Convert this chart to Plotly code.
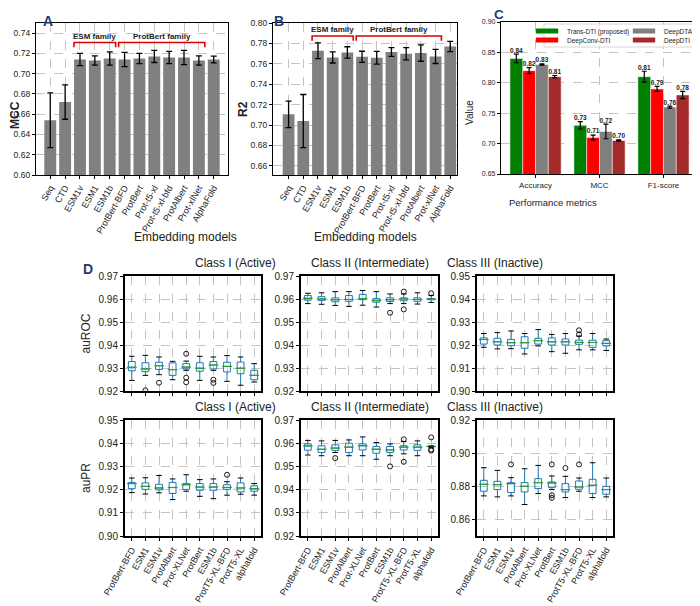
import plotly.graph_objects as go

# ---- panel A / B : embedding models ----
models = ["Seq", "CTD", "ESM1v", "ESM1", "ESM1b", "ProtBert-BFD", "ProtBert",
          "Prot-t5-xl", "Prot-t5-xl-bfd", "ProtAlbert", "Prot-xlNet", "AlphaFold"]
mcc_mean = [0.654, 0.672, 0.714, 0.713, 0.715, 0.714, 0.715, 0.717, 0.716, 0.716, 0.713, 0.714]
mcc_err = [0.027, 0.017, 0.006, 0.0045, 0.0065, 0.007, 0.005, 0.006, 0.006, 0.007, 0.0045, 0.0033]
r2_mean = [0.7105, 0.7039, 0.7728, 0.7662, 0.7711, 0.7669, 0.7659, 0.7715, 0.7698, 0.7705, 0.7672, 0.777]
r2_err = [0.013, 0.026, 0.0077, 0.0054, 0.0056, 0.0054, 0.0062, 0.0043, 0.006, 0.008, 0.0069, 0.005]

# ---- panel C : comparison with other methods ----
metrics = ["Accuracy", "MCC", "F1-score"]
methods = ["Trans-DTI (proposed)", "DeepConv-DTI", "DeepDTA", "DeepDTI"]
method_colors = ["#008000", "#ff0000", "#808080", "#a52a2a"]
trans_vals = [0.84, 0.73, 0.81]
deepconv_vals = [0.82, 0.71, 0.79]
deepdta_vals = [0.83, 0.72, 0.76]
deepdti_vals = [0.81, 0.705, 0.78]
trans_err = [0.007, 0.006, 0.009]
deepconv_err = [0.005, 0.004, 0.004]
deepdta_err = [0.001, 0.012, 0.0015]
deepdti_err = [0.002, 0.001, 0.006]
trans_lbl = ["0.84", "0.73", "0.81"]
deepconv_lbl = ["0.82", "0.71", "0.79"]
deepdta_lbl = ["0.83", "0.72", "0.76"]
deepdti_lbl = ["0.81", "0.70", "0.78"]

# ---- panel D : box plots, (lower whisker, q1, median, q3, upper whisker) ----
box_models = ["ProtBert-BFD", "ESM1", "ESM1v", "ProtAlbert", "Prot-XLNet", "ProtBert",
              "ESM1b", "ProtT5-XL-BFD", "ProtT5-XL", "alphafold"]

roc_active = [
    (0.9246, 0.9288, 0.9303, 0.9328, 0.9351),
    (0.9268, 0.9284, 0.9296, 0.9323, 0.9355),
    (0.9271, 0.9294, 0.9310, 0.9325, 0.9348),
    (0.9249, 0.9268, 0.9293, 0.9322, 0.9329),
    (0.9290, 0.9296, 0.9304, 0.9319, 0.9330),
    (0.9246, 0.9286, 0.9299, 0.9323, 0.9351),
    (0.9290, 0.9296, 0.9313, 0.9328, 0.9348),
    (0.9242, 0.9283, 0.9307, 0.9325, 0.9354),
    (0.9225, 0.9275, 0.9299, 0.9326, 0.9348),
    (0.9239, 0.9249, 0.9268, 0.9290, 0.9319),
]
roc_active_out = [("ESM1", 0.9203), ("ESM1v", 0.9236), ("Prot-XLNet", 0.9362),
                  ("Prot-XLNet", 0.9258), ("Prot-XLNet", 0.9238),
                  ("ESM1b", 0.9249), ("ESM1b", 0.9235)]

roc_inter = [
    (0.9580, 0.9595, 0.9603, 0.9615, 0.9625),
    (0.9577, 0.9593, 0.9600, 0.9610, 0.9627),
    (0.9572, 0.9588, 0.9597, 0.9605, 0.9632),
    (0.9568, 0.9590, 0.9598, 0.9615, 0.9632),
    (0.9573, 0.9597, 0.9601, 0.9620, 0.9637),
    (0.9565, 0.9586, 0.9593, 0.9602, 0.9632),
    (0.9580, 0.9589, 0.9597, 0.9605, 0.9622),
    (0.9580, 0.9592, 0.9600, 0.9605, 0.9622),
    (0.9578, 0.9590, 0.9598, 0.9605, 0.9627),
    (0.9585, 0.9597, 0.9600, 0.9602, 0.9615),
]
roc_inter_out = [("ESM1b", 0.9540), ("ProtT5-XL-BFD", 0.9632), ("ProtT5-XL-BFD", 0.9555),
                 ("alphafold", 0.9625)]

roc_inact = [
    (0.9190, 0.9204, 0.9224, 0.9231, 0.9250),
    (0.9183, 0.9200, 0.9214, 0.9229, 0.9254),
    (0.9184, 0.9197, 0.9210, 0.9224, 0.9261),
    (0.9161, 0.9186, 0.9210, 0.9236, 0.9250),
    (0.9196, 0.9204, 0.9219, 0.9229, 0.9267),
    (0.9171, 0.9200, 0.9214, 0.9231, 0.9246),
    (0.9164, 0.9200, 0.9214, 0.9226, 0.9250),
    (0.9179, 0.9203, 0.9211, 0.9221, 0.9239),
    (0.9179, 0.9190, 0.9211, 0.9221, 0.9250),
    (0.9176, 0.9196, 0.9207, 0.9219, 0.9226),
]
roc_inact_out = [("ProtT5-XL-BFD", 0.9264), ("ProtT5-XL-BFD", 0.9246)]

pr_active = [
    (0.9187, 0.9204, 0.9226, 0.9231, 0.9250),
    (0.9181, 0.9201, 0.9214, 0.9229, 0.9251),
    (0.9186, 0.9199, 0.9207, 0.9223, 0.9261),
    (0.9157, 0.9183, 0.9209, 0.9231, 0.9246),
    (0.9193, 0.9201, 0.9221, 0.9226, 0.9264),
    (0.9171, 0.9197, 0.9211, 0.9226, 0.9243),
    (0.9161, 0.9197, 0.9211, 0.9226, 0.9246),
    (0.9176, 0.9201, 0.9209, 0.9221, 0.9234),
    (0.9180, 0.9190, 0.9207, 0.9229, 0.9250),
    (0.9176, 0.9193, 0.9204, 0.9216, 0.9226),
]
pr_active_out = [("ProtT5-XL-BFD", 0.9264)]

pr_inter = [
    (0.9549, 0.9570, 0.9588, 0.9597, 0.9612),
    (0.9546, 0.9560, 0.9574, 0.9589, 0.9610),
    (0.9560, 0.9569, 0.9579, 0.9593, 0.9612),
    (0.9546, 0.9560, 0.9583, 0.9600, 0.9614),
    (0.9546, 0.9571, 0.9589, 0.9597, 0.9627),
    (0.9531, 0.9557, 0.9574, 0.9586, 0.9603),
    (0.9546, 0.9560, 0.9571, 0.9586, 0.9597),
    (0.9554, 0.9571, 0.9583, 0.9589, 0.9607),
    (0.9546, 0.9569, 0.9583, 0.9593, 0.9610),
    (0.9583, 0.9585, 0.9586, 0.9587, 0.9588),
]
pr_inter_out = [("ESM1v", 0.9536), ("ESM1b", 0.9500), ("ProtT5-XL-BFD", 0.9617),
                ("ProtT5-XL-BFD", 0.9520), ("alphafold", 0.9625), ("alphafold", 0.9573),
                ("alphafold", 0.9568)]

pr_inact = [
    (0.8742, 0.8770, 0.8812, 0.8836, 0.8912),
    (0.8736, 0.8780, 0.8810, 0.8830, 0.8896),
    (0.8742, 0.8762, 0.8816, 0.8822, 0.8852),
    (0.8690, 0.8766, 0.8800, 0.8822, 0.8906),
    (0.8756, 0.8786, 0.8822, 0.8846, 0.8926),
    (0.8780, 0.8792, 0.8820, 0.8826, 0.8862),
    (0.8732, 0.8766, 0.8780, 0.8816, 0.8860),
    (0.8770, 0.8782, 0.8796, 0.8832, 0.8850),
    (0.8732, 0.8756, 0.8806, 0.8842, 0.8942),
    (0.8736, 0.8752, 0.8780, 0.8800, 0.8850),
]
pr_inact_out = [("ESM1v", 0.8932), ("ProtBert", 0.8932), ("ProtBert", 0.8746),
                ("ProtBert", 0.8730), ("ESM1b", 0.8910), ("ProtT5-XL-BFD", 0.8932)]

# page body has an 8px margin, so the figure is 8px smaller than the window
OFF = 8
W, H = 700 - OFF, 606 - OFF
FONT = "Liberation Sans, Arial, sans-serif"
LETTER = "#1f3b73"


def px(x):
    return (x - OFF) / W


def py(y):
    return 1 - (y - OFF) / H


def xdom(a, b):
    return [px(a), px(b)]


def ydom(top, bottom):
    return [py(bottom), py(top)]


def frame(lw=1.3, **kw):
    d = dict(showline=True, mirror=True, linecolor="black", linewidth=lw, automargin=False,
             showgrid=True, gridcolor="#c4c4c4", griddash="dash", gridwidth=0.8,
             zeroline=False, ticks="outside", ticklen=3, tickcolor="black",
             tickfont=dict(size=9, color="#222"))
    d.update(kw)
    return d


fig = go.Figure()

# A
fig.add_trace(go.Bar(x=list(range(len(models))), y=mcc_mean, width=0.8, marker_color="#808080",
                     error_y=dict(type="data", array=mcc_err, color="black", thickness=1.3, width=3),
                     showlegend=False, xaxis="x", yaxis="y"))
# B
fig.add_trace(go.Bar(x=list(range(len(models))), y=r2_mean, width=0.8, marker_color="#808080",
                     error_y=dict(type="data", array=r2_err, color="black", thickness=1.3, width=3),
                     showlegend=False, xaxis="x2", yaxis="y2"))

# C
c_vals = [trans_vals, deepconv_vals, deepdta_vals, deepdti_vals]
c_errs = [trans_err, deepconv_err, deepdta_err, deepdti_err]
c_lbls = [trans_lbl, deepconv_lbl, deepdta_lbl, deepdti_lbl]
legend_ids = ["legend", "legend2", "legend3", "legend4"]
for k, name in enumerate(methods):
    fig.add_trace(go.Bar(x=list(range(len(metrics))), y=c_vals[k], width=0.2, offset=-0.4 + 0.2 * k,
                         name=name, marker=dict(color=method_colors[k], line=dict(color="white", width=0.5)),
                         error_y=dict(type="data", array=c_errs[k], color="black", thickness=1.2, width=2.5),
                         showlegend=False, xaxis="x3", yaxis="y3"))
    # flat legend swatch like the reference's
    fig.add_trace(go.Scatter(x=[None], y=[None], mode="markers", name=name, legend=legend_ids[k],
                             marker=dict(symbol="line-ew", size=16, line=dict(color=method_colors[k], width=5)),
                             xaxis="x3", yaxis="y3"))
for k in range(len(methods)):
    fig.add_trace(go.Scatter(x=[i - 0.3 + 0.2 * k for i in range(len(metrics))],
                             y=[v + e for v, e in zip(c_vals[k], c_errs[k])],
                             text=["<b>%s</b>" % t for t in c_lbls[k]], mode="text",
                             textposition="top center", textfont=dict(size=6.5, color="#222"),
                             showlegend=False, xaxis="x3", yaxis="y3"))

# D
box_panels = [
    (roc_active, roc_active_out, 4), (roc_inter, roc_inter_out, 5), (roc_inact, roc_inact_out, 6),
    (pr_active, pr_active_out, 7), (pr_inter, pr_inter_out, 8), (pr_inact, pr_inact_out, 9),
]
for stats, outs, n in box_panels:
    xa, ya = "x%d" % n, "y%d" % n
    lo = [s[0] for s in stats]
    hi = [s[4] for s in stats]
    fig.add_trace(go.Box(x=box_models, lowerfence=lo, q1=[s[1] for s in stats],
                         median=[s[2] for s in stats], q3=[s[3] for s in stats], upperfence=hi,
                         width=0.5, whiskerwidth=0, boxpoints=False, fillcolor="rgba(0,0,0,0)",
                         line=dict(color="#1f77b4", width=1), showlegend=False, xaxis=xa, yaxis=ya))
    fig.add_trace(go.Scatter(x=box_models, y=[s[2] for s in stats], mode="markers",
                             marker=dict(symbol="line-ew", size=7, line=dict(color="#2ca02c", width=1.2)),
                             showlegend=False, xaxis=xa, yaxis=ya))
    fig.add_trace(go.Scatter(x=box_models + box_models, y=lo + hi, mode="markers",
                             marker=dict(symbol="line-ew", size=4, line=dict(color="black", width=1)),
                             showlegend=False, xaxis=xa, yaxis=ya))
    fig.add_trace(go.Scatter(x=[o[0] for o in outs], y=[o[1] for o in outs], mode="markers",
                             marker=dict(symbol="circle-open", size=5, color="black", line=dict(width=0.9)),
                             showlegend=False, xaxis=xa, yaxis=ya, cliponaxis=False))

layout = dict(
    template="none",
    width=W, height=H, margin=dict(l=0, r=0, t=0, b=0, autoexpand=False),
    paper_bgcolor="white", plot_bgcolor="white", barmode="overlay",
    font=dict(family=FONT, color="#222"),
    xaxis=frame(domain=xdom(36, 228), anchor="y", range=[-0.96, 11.96],
                tickvals=list(range(len(models))), ticktext=models, tickangle=-60),
    yaxis=frame(domain=ydom(23, 175), anchor="x", range=[0.60, 0.75], tick0=0.60, dtick=0.02,
                tickformat=".2f", tickfont=dict(size=8.5)),
    xaxis2=frame(domain=xdom(273, 457), anchor="y2", range=[-1.06, 11.46],
                 tickvals=list(range(len(models))), ticktext=models, tickangle=-60),
    yaxis2=frame(domain=ydom(23, 175), anchor="x2", range=[0.651, 0.80], tick0=0.66, dtick=0.02,
                 tickformat=".2f", tickfont=dict(size=8.5)),
    xaxis3=frame(domain=xdom(501, 698), anchor="y3", range=[-0.54, 2.54],
                 tickvals=list(range(len(metrics))), ticktext=metrics, tickfont=dict(size=8)),
    yaxis3=frame(domain=ydom(22, 174), anchor="x3", range=[0.65, 0.90], dtick=0.05,
                 tickformat=".2f", tickfont=dict(size=7)),
)

# one legend per entry so the two-column layout can be placed exactly
legend_pos = [(527, 31), (527, 40), (624, 31), (624, 40)]
for lid, (lx, ly) in zip(legend_ids, legend_pos):
    layout[lid] = dict(x=px(lx), y=py(ly), xanchor="left", yanchor="middle", font=dict(size=6.5),
                       bgcolor="rgba(0,0,0,0)", itemwidth=30, borderwidth=0)

d_cols = [(125, 261), (301, 438), (477, 613)]
d_rows = [(276, 391), (420, 536)]
d_ranges = [[0.92, 0.97], [0.92, 0.97], [0.90, 0.95], [0.90, 0.95], [0.92, 0.97], [0.85, 0.92]]
d_dticks = [0.01, 0.01, 0.01, 0.01, 0.01, 0.02]
for n in range(4, 10):
    idx = n - 4
    r, c = divmod(idx, 3)
    layout["xaxis%d" % n] = frame(lw=2, domain=xdom(*d_cols[c]), anchor="y%d" % n, type="category",
                                  categoryorder="array", categoryarray=box_models, range=[-0.5, 9.5],
                                  tickmode="array", tickvals=box_models, ticktext=box_models,
                                  showticklabels=(r == 1), tickangle=-60, tickfont=dict(size=9))
    ytitle = ["auROC", "auPR"][r] if c == 0 else None
    layout["yaxis%d" % n] = frame(lw=2, domain=ydom(*d_rows[r]), anchor="x%d" % n,
                                  range=d_ranges[idx], dtick=d_dticks[idx], tick0=0.84,
                                  tickformat=".2f", tickfont=dict(size=10),
                                  title=dict(text=ytitle, font=dict(size=12)))

fig.update_layout(**layout)


def note(text, x, y, size, angle=0, color="#222", **kw):
    return dict(text=text, x=px(x), y=py(y), xref="paper", yref="paper", showarrow=False,
                textangle=angle, font=dict(size=size, color=color), **kw)


annotations = []
for txt, x, y, s in [("A", 42, 12, 14), ("B", 279, 12, 14), ("C", 505, 6, 13.5), ("D", 82, 269, 14)]:
    annotations.append(note("<b>%s</b>" % txt, x, y, s, color=LETTER, borderpad=0))
for x in [132, 365]:
    annotations.append(note("Embedding models", x, 237, 12))
annotations.append(note("<b>MCC</b>", 6, 99, 12, angle=-90))
annotations.append(note("<b>R2</b>", 243, 99, 12, angle=-90))
annotations.append(note("Value", 477, 98, 10, angle=-90))
annotations.append(note("Performance metrics", 599, 195, 9.5))

class_titles = ["Class I (Active)", "Class II (Intermediate)", "Class III (Inactive)"]
for r in range(2):
    for c in range(3):
        annotations.append(note(class_titles[c], (d_cols[c][0] + d_cols[c][1]) / 2,
                                d_rows[r][0] - 4, 12, yanchor="bottom"))

# family brackets for A and B
shapes = []
brackets = [("x", "y", 0.7307, 0.7261, 0.7366), ("x2", "y2", 0.7873, 0.7827, 0.7938)]
for xr, yr, yl, yt, ytxt in brackets:
    for name, a, b in [("ESM family", "ESM1v", "ESM1b"), ("ProtBert family", "ProtBert-BFD", "Prot-xlNet")]:
        x0 = models.index(a) - 0.4
        x1 = models.index(b) + 0.4
        shapes.append(dict(type="path", xref=xr, yref=yr,
                           path="M%f,%f L%f,%f L%f,%f L%f,%f" % (x0, yt, x0, yl, x1, yl, x1, yt),
                           line=dict(color="#e00000", width=1.6)))
        annotations.append(dict(text="<b>%s</b>" % name, x=(x0 + x1) / 2, y=ytxt, xref=xr, yref=yr,
                                showarrow=False, font=dict(size=8, color="#222")))

# legend frame for C
shapes.append(dict(type="rect", xref="paper", yref="paper", x0=px(544), x1=px(696),
                   y0=py(47), y1=py(24), line=dict(color="#cccccc", width=0.8),
                   fillcolor="rgba(255,255,255,0.8)", layer="above"))

fig.update_layout(annotations=annotations, shapes=shapes)
fig.write_html("out.html")
